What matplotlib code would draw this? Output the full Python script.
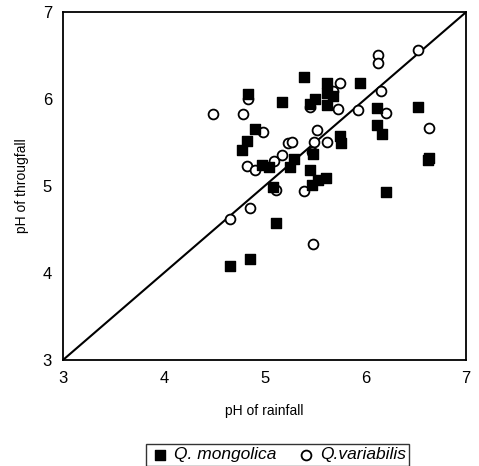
import matplotlib
matplotlib.use("Agg")
import matplotlib.pyplot as plt

plt.rcParams['font.family'] = ['Liberation Sans', 'DejaVu Sans']

# Q. mongolica (filled squares): rainfall pH, throughfall pH
mong_x = [4.84, 4.91, 4.83, 4.78, 5.39, 5.17, 5.50, 5.45, 5.62, 5.62, 5.68, 5.62,
          5.95, 4.97, 5.04, 5.25, 5.29, 5.48, 5.75, 5.76, 5.08, 5.45, 5.53, 5.61,
          5.47, 5.11, 4.86, 4.66, 6.12, 6.52, 6.12, 6.17, 6.62, 6.63, 6.21]
mong_y = [6.06, 5.66, 5.52, 5.41, 6.25, 5.97, 6.00, 5.94, 6.18, 6.07, 6.04, 5.93,
          6.19, 5.24, 5.22, 5.22, 5.31, 5.37, 5.57, 5.49, 4.99, 5.18, 5.07, 5.09,
          5.01, 4.57, 4.16, 4.08, 5.90, 5.91, 5.70, 5.60, 5.30, 5.32, 4.93]

# Q. variabilis (open circles)
var_x = [4.84, 4.49, 4.79, 4.98, 5.75, 5.68, 5.45, 5.73, 5.93, 5.52, 5.23, 5.27,
         5.49, 5.62, 4.83, 4.91, 5.09, 5.17, 5.47, 5.11, 5.39, 4.86, 4.66, 5.48,
         6.52, 6.13, 6.13, 6.16, 6.21, 6.63]
var_y = [6.00, 5.83, 5.83, 5.62, 6.19, 6.09, 5.91, 5.89, 5.87, 5.64, 5.49, 5.51,
         5.51, 5.51, 5.23, 5.19, 5.29, 5.36, 5.39, 4.95, 4.94, 4.75, 4.62, 4.33,
         6.57, 6.51, 6.42, 6.09, 5.84, 5.67]

ticks = [3, 4, 5, 6, 7]

fig = plt.figure(figsize=(4.79, 4.66), dpi=100)
ax = fig.add_axes([0.1315, 0.2275, 0.8415, 0.7465])

ax.plot([3, 7], [3, 7], color='black', lw=1.5, zorder=1)
ax.scatter(mong_x, mong_y, marker='s', s=50, color='black', zorder=3,
           label='Q. mongolica')
ax.scatter(var_x, var_y, marker='o', s=50, facecolor='white', edgecolor='black',
           linewidths=1.3, zorder=2, label='Q.variabilis')

ax.set_xlim(3, 7)
ax.set_ylim(3, 7)
ax.set_xticks(ticks)
ax.set_yticks(ticks)
ax.tick_params(length=0, labelsize=12, pad=8)
for s in ax.spines.values():
    s.set_linewidth(1.3)

ax.set_xlabel('pH of rainfall', fontsize=10, labelpad=13)
ax.set_ylabel('pH of througfall', fontsize=10, labelpad=10)

leg = fig.legend(loc='center', bbox_to_anchor=(0.58, 0.024), ncol=2,
                 frameon=True, fancybox=False, edgecolor='black',
                 prop={'style': 'italic', 'size': 12.5}, handletextpad=0.2,
                 columnspacing=1.1, borderpad=0.2, borderaxespad=0.3,
                 handlelength=1.2)
leg.get_frame().set_linewidth(1.0)

fig.savefig('out.png', dpi=100)
